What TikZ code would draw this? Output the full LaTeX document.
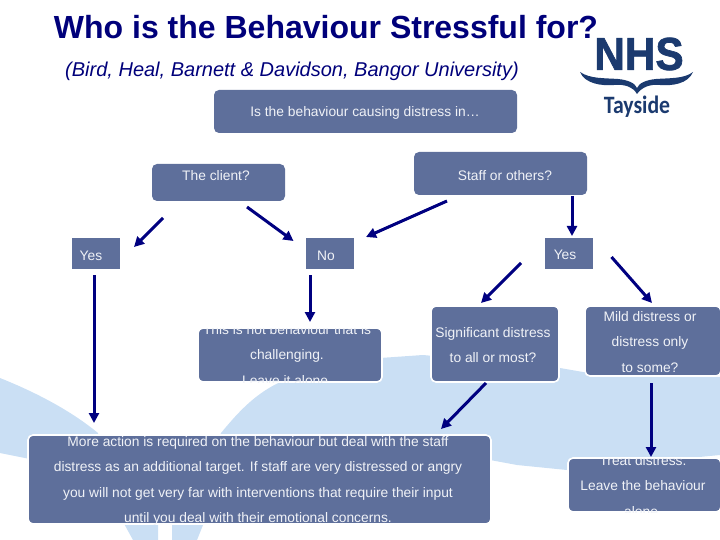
\documentclass[tikz,border=0pt]{standalone}
\usepackage{fontspec}
\setmainfont{Liberation Sans}
\newfontfamily\tayfont{Carlito}
\newfontfamily\nhsfont[FakeBold=1.6]{Liberation Sans}
\usetikzlibrary{calc,arrows.meta}
\definecolor{boxblue}{HTML}{5E6F9B}
\definecolor{navyarrow}{HTML}{000080}
\definecolor{titlenavy}{HTML}{00007A}
\definecolor{watermark}{HTML}{CADFF4}
\definecolor{logoblue}{HTML}{1B3A6F}
\definecolor{softwhite}{HTML}{F0F2F7}
\tikzset{
  cbox/.style={fill=boxblue,rounded corners=5pt,inner sep=0pt,outer sep=0pt},
  obox/.style={cbox,draw=white,line width=1.6pt},
  sbox/.style={fill=boxblue,inner sep=0pt,outer sep=0pt},
  boxtext/.style={text=softwhite,align=center,inner sep=0pt,font=\fontsize{13.8}{25.5}\selectfont},
  arr/.style={draw=navyarrow,line width=3pt,-{Triangle[length=10pt,width=10pt]}}
}
\newcommand{\clipbox}[1]{\clip[rounded corners=5pt] (#1.south west) rectangle (#1.north east);}
\begin{document}
\begin{tikzpicture}[x=1pt,y=-1pt]
\useasboundingbox (0,0) rectangle (720,540);
\clip (0,0) rectangle (720,540);
% watermark
\fill[watermark] (0,378) .. controls (35,392) and (70,410) .. (98,433) -- (98,460) -- (30,459) -- (0,453) -- cycle;
\fill[watermark] (215,445) -- (221,433) .. controls (240,410) and (262,385) .. (300,375) .. controls (330,362) and (355,358) .. (380,358)
  -- (423,355) -- (560,368) -- (583,372) -- (720,377) -- (720,455) -- (567,470) -- (517,465) -- (490,460) -- (300,470) -- cycle;
\fill[watermark] (122,520) -- (133,540) -- (158,540) -- (158,520) -- cycle;
\fill[watermark] (172,520) -- (172,540) -- (197,540) -- (205,520) -- cycle;
% logo
\node[text=logoblue,inner sep=0pt,font=\nhsfont\fontsize{46}{46}\selectfont\bfseries] (nhs) at (639,54) {\scalebox{0.92}[1]{NHS}};
\fill[logoblue] (580,72) .. controls (590,79) and (605,78) .. (618,79) .. controls (628,80) and (635,83) .. (637,88)
  .. controls (639,83) and (646,80) .. (656,79) .. controls (669,78) and (684,79) .. (693,72)
  .. controls (688,84) and (672,86) .. (660,85) .. controls (650,84) and (642,87) .. (637,94)
  .. controls (633,87) and (625,84) .. (614,85) .. controls (602,86) and (585,84) .. (580,72) -- cycle;
\node[text=logoblue,inner sep=0pt,font=\tayfont\fontsize{25}{25}\selectfont\bfseries] (tay) at (637,107) {\scalebox{0.87}[1]{Tayside}};
% titles
\node[text=titlenavy,inner sep=0pt,font=\fontsize{32}{32}\selectfont\bfseries] (title) at (326,27) {Who is the Behaviour Stressful for?};
\node[text=titlenavy,inner sep=0pt,font=\fontsize{20}{20}\selectfont\itshape] (subtitle) at (292,71) {(Bird, Heal, Barnett \& Davidson, Bangor University)};
% boxes
\node[cbox,minimum width=303pt,minimum height=43pt] (top) at (365.5,111.5) {};
\node[cbox,minimum width=133pt,minimum height=37pt] (client) at (218.5,182.5) {};
\node[cbox,minimum width=173pt,minimum height=43pt] (staff) at (500.5,173.5) {};
\node[sbox,minimum width=48pt,minimum height=31pt] (yesl) at (96,253.5) {};
\node[sbox,minimum width=48pt,minimum height=31pt] (no) at (330,253.5) {};
\node[sbox,minimum width=48pt,minimum height=31pt] (yesr) at (569,253.5) {};
\node[obox,minimum width=184pt,minimum height=54pt] (this) at (290,355) {};
\node[obox,minimum width=128pt,minimum height=76pt] (sig) at (495,344) {};
\node[obox,minimum width=136pt,minimum height=70pt] (mild) at (653,341) {};
\node[obox,minimum width=463pt,minimum height=89pt] (more) at (259.5,479.5) {};
\node[obox,minimum width=153pt,minimum height=54pt] (treat) at (644.5,485) {};
% texts
\node[boxtext] (ttop) at (365,113) {Is the behaviour causing distress in…};
\node[boxtext] (tclient) at (216,176) {The client?};
\node[boxtext] (tstaff) at (505,176) {Staff or others?};
\node[boxtext] (tyesl) at (91,256) {Yes};
\node[boxtext] (tno) at (326,256) {No};
\node[boxtext] (tyesr) at (565,255) {Yes};
\begin{scope}\clipbox{this}
\node[boxtext] (tthis) at (287,355) {This is not behaviour that is\\challenging.\\Leave it alone.};
\end{scope}
\node[boxtext] (tsig) at (493,345) {Significant distress\\to all or most?};
\node[boxtext] (tmild) at (650,342) {Mild distress or\\distress only\\to some?};
\begin{scope}\clipbox{more}
\node[boxtext] (tmore) at (258,481) {More action is required on the behaviour but deal with the staff\\distress as an additional target. If staff are very distressed or angry\\you will not get very far with interventions that require their input\\until you deal with their emotional concerns.};
\end{scope}
\begin{scope}\clipbox{treat}
\node[boxtext] (ttreat) at (643,486) {Treat distress.\\Leave the behaviour\\alone.};
\end{scope}
% arrows
\draw[arr] ($(client)+(-55.5,35.5)$) -- ($(yesl)+(38,-6.5)$);
\draw[arr] ($(client)+(28.5,24.5)$) -- ($(no)+(-36.5,-12.5)$);
\draw[arr] ($(staff)+(-53.5,27.5)$) -- ($(no)+(36,-16.5)$);
\draw[arr] ($(staff)+(71.5,22.5)$) -- ($(yesr)+(3,-17.5)$);
\draw[arr] ($(yesr)+(-48,9.5)$) -- ($(sig)+(-14,-41)$);
\draw[arr] ($(yesr)+(42.5,3.5)$) -- ($(mild)+(-1,-38)$);
\draw[arr] ($(yesl)+(-2,21.5)$) -- ($(more)+(-165.5,-56.5)$);
\draw[arr] ($(no)+(-20,21.5)$) -- ($(this)+(20,-33)$);
\draw[arr] ($(sig)+(-9,39)$) -- ($(more)+(181.5,-50.5)$);
\draw[arr] ($(mild)+(-2,42)$) -- ($(treat)+(6.5,-28)$);
\end{tikzpicture}
\end{document}
